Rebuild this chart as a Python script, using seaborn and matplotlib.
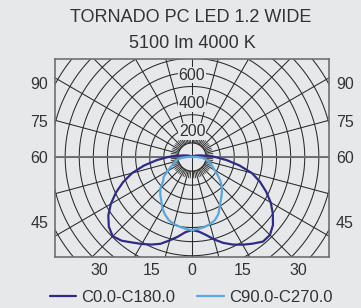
import numpy as np
import matplotlib
matplotlib.use("Agg")
import matplotlib.pyplot as plt
import seaborn as sns

# sudut gamma (derajat dari nadir) dan intensitas (cd)
gamma = [0, 5, 10, 15, 20, 25, 30, 35, 40, 45, 50, 55, 60, 65, 70, 75, 80, 85, 90, 95, 100, 110, 120, 180]
c0 = [518, 530, 560, 605, 648, 685, 718, 750, 783, 782, 750, 700, 645, 580, 513, 440, 340, 245, 165, 100, 65, 30, 15, 0]
c180 = [518, 535, 573, 612, 655, 685, 712, 740, 775, 795, 770, 725, 665, 595, 520, 440, 345, 250, 170, 100, 65, 30, 15, 0]
c90 = [518, 512, 505, 492, 476, 445, 395, 360, 330, 300, 262, 222, 185, 160, 140, 118, 100, 72, 35, 10, 0, 0, 0, 0]
c270 = [518, 512, 502, 492, 478, 452, 420, 380, 350, 318, 268, 245, 200, 165, 135, 120, 105, 75, 35, 10, 0, 0, 0, 0]

legend_labels = ["C0.0-C180.0", "C90.0-C270.0"]
ring_labels = [200, 400, 600]
angle_x_labels = ["30", "15", "0", "15", "30"]
angle_x_pos = [-660, -285, 0, 357, 752]
angle_y_labels = ["90", "75", "60", "45"]
angle_y_pos = [525, 255, 0, -461]

bg = "#e7e8ea"
dark = "#2e2c86"
light = "#5ba6da"
grid_c = "#2a2a2a"

sns.set_style("white", {"axes.facecolor": bg, "figure.facecolor": bg})
plt.rcParams["font.family"] = ["Liberation Sans", "DejaVu Sans"]

fig = plt.figure(figsize=(3.61, 3.08), dpi=100)
ax = fig.add_axes([55 / 361, 51 / 308, 274 / 361, 198 / 308])
ax.set_xlim(-972, 972)
ax.set_ylim(-709, 695)

# grid polar
t = np.linspace(0, 2 * np.pi, 400)
for r in range(100, 1300, 100):
    ax.plot(r * np.cos(t), r * np.sin(t), color=grid_c, lw=0.75, zorder=1)
for a in range(0, 360, 15):
    ar = np.deg2rad(a)
    ax.plot([100 * np.cos(ar), 1400 * np.cos(ar)], [100 * np.sin(ar), 1400 * np.sin(ar)],
            color=grid_c, lw=0.75, zorder=1)
for a in range(0, 360, 5):
    if a % 15 == 0:
        continue
    ar = np.deg2rad(a)
    ax.plot([100 * np.cos(ar), 150 * np.cos(ar)], [100 * np.sin(ar), 150 * np.sin(ar)],
            color=grid_c, lw=0.6, zorder=1)
ax.plot([0, 0], [-100, 100], color=grid_c, lw=0.75, zorder=1)
ax.axhline(0, color="#707070", lw=1.4, zorder=1)

for v in ring_labels:
    ax.text(0, v - 20, str(v), ha="center", va="center", fontsize=11.5, color="#333333",
            zorder=3, bbox=dict(facecolor=bg, edgecolor="none", pad=0.5))

# kurva
g = np.deg2rad(np.array(gamma))


def kurva(kanan, kiri):
    kanan = np.array(kanan)
    kiri = np.array(kiri)
    x = np.concatenate([-(kiri * np.sin(g))[::-1], kanan * np.sin(g)])
    y = np.concatenate([-(kiri * np.cos(g))[::-1], -kanan * np.cos(g)])
    return x, y


x1, y1 = kurva(c0, c180)
x2, y2 = kurva(c90, c270)
sns.lineplot(x=x1, y=y1, sort=False, estimator=None, color=dark, lw=1.6, ax=ax,
             label=legend_labels[0], zorder=4)
sns.lineplot(x=x2, y=y2, sort=False, estimator=None, color=light, lw=1.6, ax=ax,
             label=legend_labels[1], zorder=4)

ax.set_xticks(angle_x_pos)
ax.set_xticklabels(angle_x_labels)
ax.set_yticks(angle_y_pos)
ax.set_yticklabels(angle_y_labels)
ax.tick_params(axis="x", length=0, pad=4, labelsize=11.5, labelcolor="#333333")
ax.tick_params(axis="y", length=0, labelsize=11.5, labelcolor="#333333",
               labelleft=True, labelright=True, pad=5)
for s in ax.spines.values():
    s.set_color("#707070")
    s.set_linewidth(1.2)

h, l = ax.get_legend_handles_labels()
ax.get_legend().remove()
fig.legend(h, l, loc="center", bbox_to_anchor=(191 / 361, 11 / 308), ncol=2, frameon=False,
           fontsize=12, handlelength=1.6, handletextpad=0.3, columnspacing=1.3,
           labelcolor="#333333")

fig.text(191 / 361, 1 - 18 / 308, "TORNADO PC LED 1.2 WIDE", ha="center", va="center",
         fontsize=13, color="#333333")
fig.text(192 / 361, 1 - 43 / 308, "5100 lm 4000 K", ha="center", va="center",
         fontsize=13, color="#333333")

fig.savefig("out.png", dpi=100, facecolor=bg)
